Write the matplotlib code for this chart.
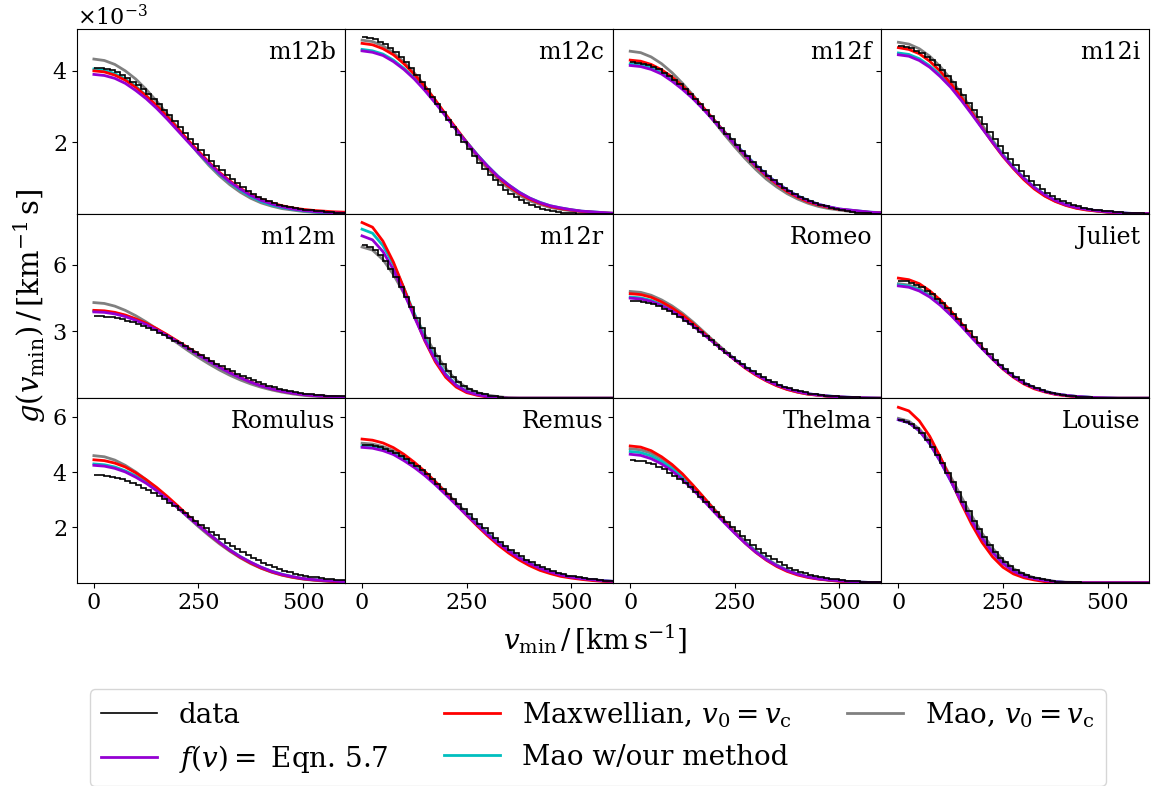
import numpy as np
import matplotlib
matplotlib.use("Agg")
import matplotlib.pyplot as plt
from matplotlib.lines import Line2D

plt.rcParams["font.family"] = "DejaVu Serif"
plt.rcParams["mathtext.fontset"] = "dejavuserif"

# model g(vmin) tabulated every 25 km/s, units of 1e-3 s/km
VMIN = np.arange(0, 601, 25)
# simulated g(vmin) is a histogram with 12.5 km/s bins
EDGES = np.arange(0, 601, 12.5)
SCALE = 1e-3

# ---- row 1 -------------------------------------------------------------
m12b_data = [4.09, 4.08, 4.05, 4.01, 3.96, 3.89, 3.80, 3.70, 3.59, 3.48, 3.35, 3.21,
             3.06, 2.91, 2.75, 2.59, 2.43, 2.26, 2.10, 1.94, 1.78, 1.63, 1.48, 1.34,
             1.21, 1.08, 0.96, 0.85, 0.74, 0.64, 0.55, 0.47, 0.40, 0.35, 0.30, 0.25,
             0.21, 0.18, 0.15, 0.12, 0.10, 0.09, 0.07, 0.06, 0.05, 0.04, 0.03, 0.02]
m12b_fv = [3.90, 3.87, 3.79, 3.65, 3.45, 3.22, 2.95, 2.65, 2.33, 2.01, 1.70, 1.41, 1.13, 0.89, 0.69, 0.51, 0.37, 0.27, 0.19, 0.13, 0.09, 0.06, 0.04, 0.02, 0.01]
m12b_maxw = [4.00, 3.97, 3.88, 3.74, 3.54, 3.30, 3.03, 2.72, 2.39, 2.06, 1.75, 1.44, 1.16, 0.92, 0.71, 0.53, 0.40, 0.30, 0.22, 0.16, 0.12, 0.09, 0.07, 0.05, 0.04]
m12b_mao = [4.05, 4.02, 3.92, 3.77, 3.57, 3.31, 3.02, 2.70, 2.36, 2.03, 1.70, 1.39, 1.11, 0.87, 0.66, 0.48, 0.34, 0.24, 0.17, 0.12, 0.08, 0.05, 0.03, 0.02, 0.01]
m12b_mao_vc = [4.33, 4.29, 4.18, 4.00, 3.77, 3.48, 3.15, 2.79, 2.41, 2.04, 1.68, 1.35, 1.06, 0.81, 0.60, 0.43, 0.30, 0.21, 0.14, 0.10, 0.06, 0.04, 0.02, 0.01, 0.00]

m12c_data = [4.95, 4.93, 4.89, 4.82, 4.74, 4.64, 4.52, 4.39, 4.24, 4.07, 3.89, 3.70,
             3.49, 3.28, 3.06, 2.85, 2.63, 2.42, 2.21, 2.00, 1.81, 1.62, 1.43, 1.26,
             1.09, 0.94, 0.80, 0.67, 0.56, 0.47, 0.38, 0.31, 0.24, 0.19, 0.14, 0.10,
             0.07, 0.04, 0.03, 0.02, 0.01, 0.00, 0.00, 0.00, 0.00, 0.00, 0.00, 0.00]
m12c_fv = [4.56, 4.52, 4.43, 4.26, 4.04, 3.77, 3.45, 3.10, 2.73, 2.35, 1.99, 1.65, 1.33, 1.04, 0.81, 0.60, 0.44, 0.31, 0.22, 0.16, 0.11, 0.07, 0.05, 0.03, 0.01]
m12c_maxw = [4.77, 4.73, 4.62, 4.45, 4.20, 3.90, 3.56, 3.18, 2.78, 2.39, 2.00, 1.64, 1.31, 1.02, 0.77, 0.57, 0.41, 0.29, 0.20, 0.14, 0.10, 0.06, 0.04, 0.02, 0.01]
m12c_mao = [4.60, 4.56, 4.47, 4.30, 4.07, 3.80, 3.48, 3.12, 2.75, 2.37, 2.01, 1.66, 1.34, 1.05, 0.81, 0.61, 0.44, 0.32, 0.22, 0.16, 0.11, 0.07, 0.05, 0.03, 0.01]
m12c_mao_vc = [4.86, 4.82, 4.70, 4.51, 4.25, 3.94, 3.58, 3.18, 2.76, 2.35, 1.96, 1.58, 1.25, 0.96, 0.71, 0.52, 0.36, 0.26, 0.17, 0.12, 0.08, 0.05, 0.03, 0.01, 0.00]

m12f_data = [4.24, 4.23, 4.20, 4.16, 4.11, 4.04, 3.95, 3.85, 3.74, 3.63, 3.50, 3.36,
             3.22, 3.07, 2.91, 2.74, 2.58, 2.41, 2.24, 2.08, 1.92, 1.76, 1.61, 1.46,
             1.32, 1.19, 1.06, 0.94, 0.83, 0.73, 0.64, 0.55, 0.48, 0.41, 0.35, 0.30,
             0.25, 0.21, 0.17, 0.14, 0.11, 0.08, 0.05, 0.03, 0.02, 0.01, 0.00, 0.00]
m12f_fv = [4.15, 4.12, 4.04, 3.91, 3.71, 3.48, 3.22, 2.92, 2.60, 2.27, 1.95, 1.64, 1.35, 1.09, 0.86, 0.66, 0.49, 0.36, 0.26, 0.19, 0.13, 0.10, 0.07, 0.04, 0.02]
m12f_maxw = [4.30, 4.27, 4.18, 4.03, 3.83, 3.58, 3.29, 2.97, 2.63, 2.29, 1.95, 1.63, 1.33, 1.06, 0.83, 0.62, 0.46, 0.33, 0.24, 0.17, 0.12, 0.09, 0.06, 0.03, 0.02]
m12f_mao = [4.20, 4.17, 4.09, 3.95, 3.75, 3.52, 3.26, 2.95, 2.63, 2.30, 1.97, 1.66, 1.37, 1.10, 0.87, 0.67, 0.50, 0.37, 0.26, 0.19, 0.13, 0.10, 0.07, 0.04, 0.03]
m12f_mao_vc = [4.55, 4.51, 4.39, 4.20, 3.95, 3.65, 3.32, 2.96, 2.59, 2.22, 1.87, 1.54, 1.24, 0.97, 0.75, 0.56, 0.41, 0.29, 0.20, 0.14, 0.10, 0.06, 0.04, 0.03, 0.01]

m12i_data = [4.69, 4.67, 4.63, 4.57, 4.49, 4.40, 4.29, 4.16, 4.01, 3.85, 3.68, 3.50,
             3.31, 3.11, 2.91, 2.70, 2.50, 2.29, 2.09, 1.90, 1.71, 1.53, 1.36, 1.20,
             1.05, 0.92, 0.80, 0.69, 0.59, 0.50, 0.42, 0.35, 0.29, 0.24, 0.20, 0.17,
             0.14, 0.11, 0.09, 0.08, 0.06, 0.05, 0.04, 0.03, 0.02, 0.01, 0.01, 0.00]
m12i_fv = [4.45, 4.41, 4.29, 4.10, 3.84, 3.54, 3.18, 2.79, 2.39, 2.00, 1.62, 1.28, 0.99, 0.73, 0.53, 0.37, 0.25, 0.17, 0.12, 0.08, 0.05, 0.03, 0.01, 0.00, 0.00]
m12i_maxw = [4.65, 4.60, 4.48, 4.27, 3.99, 3.65, 3.26, 2.84, 2.41, 1.99, 1.60, 1.26, 0.95, 0.69, 0.49, 0.34, 0.23, 0.15, 0.10, 0.07, 0.04, 0.02, 0.00, 0.00, 0.00]
m12i_mao = [4.50, 4.46, 4.34, 4.14, 3.89, 3.58, 3.21, 2.82, 2.41, 2.02, 1.64, 1.30, 1.00, 0.74, 0.54, 0.37, 0.26, 0.17, 0.12, 0.08, 0.05, 0.03, 0.01, 0.00, 0.00]
m12i_mao_vc = [4.80, 4.75, 4.62, 4.41, 4.12, 3.77, 3.36, 2.93, 2.49, 2.06, 1.66, 1.30, 0.98, 0.72, 0.50, 0.35, 0.24, 0.16, 0.11, 0.07, 0.04, 0.02, 0.00, 0.00, 0.00]

# ---- row 2 -------------------------------------------------------------
m12m_data = [3.70, 3.69, 3.67, 3.64, 3.60, 3.55, 3.49, 3.42, 3.34, 3.25, 3.15, 3.05,
             2.95, 2.84, 2.72, 2.59, 2.47, 2.34, 2.21, 2.08, 1.95, 1.82, 1.69, 1.56,
             1.44, 1.32, 1.21, 1.10, 0.99, 0.90, 0.81, 0.72, 0.64, 0.57, 0.50, 0.43,
             0.38, 0.33, 0.28, 0.25, 0.21, 0.18, 0.15, 0.13, 0.11, 0.10, 0.09, 0.08]
m12m_fv = [3.88, 3.86, 3.79, 3.67, 3.50, 3.31, 3.07, 2.81, 2.53, 2.23, 1.94, 1.66, 1.39, 1.14, 0.92, 0.72, 0.55, 0.42, 0.31, 0.23, 0.16, 0.12, 0.09, 0.06, 0.04]
m12m_maxw = [3.95, 3.93, 3.86, 3.74, 3.57, 3.37, 3.13, 2.86, 2.57, 2.27, 1.98, 1.69, 1.41, 1.16, 0.93, 0.73, 0.56, 0.42, 0.31, 0.23, 0.16, 0.12, 0.09, 0.06, 0.04]
m12m_mao = [3.92, 3.90, 3.83, 3.71, 3.54, 3.34, 3.10, 2.84, 2.55, 2.25, 1.96, 1.68, 1.40, 1.15, 0.93, 0.73, 0.56, 0.42, 0.31, 0.23, 0.16, 0.12, 0.09, 0.06, 0.04]
m12m_mao_vc = [4.30, 4.26, 4.14, 3.95, 3.71, 3.43, 3.12, 2.80, 2.47, 2.14, 1.83, 1.54, 1.27, 1.03, 0.82, 0.64, 0.49, 0.37, 0.27, 0.19, 0.13, 0.09, 0.06, 0.04, 0.02]

m12r_data = [6.87, 6.80, 6.65, 6.43, 6.15, 5.81, 5.43, 5.00, 4.55, 4.08, 3.61, 3.14,
             2.69, 2.26, 1.88, 1.53, 1.22, 0.95, 0.73, 0.56, 0.42, 0.31, 0.23, 0.17,
             0.12, 0.09, 0.06, 0.03, 0.02, 0.00, 0.00, 0.00, 0.00, 0.00, 0.00, 0.00,
             0.00, 0.00, 0.00, 0.00, 0.00, 0.00, 0.00, 0.00, 0.00, 0.00, 0.00, 0.00]
m12r_fv = [7.30, 7.12, 6.59, 5.78, 4.75, 3.65, 2.61, 1.72, 1.04, 0.58, 0.30, 0.16, 0.07, 0.02, 0, 0, 0, 0, 0, 0, 0, 0, 0, 0, 0]
m12r_maxw = [7.90, 7.69, 7.06, 6.12, 4.95, 3.71, 2.58, 1.64, 0.94, 0.50, 0.25, 0.13, 0.05, 0.01, 0, 0, 0, 0, 0, 0, 0, 0, 0, 0, 0]
m12r_mao = [7.60, 7.42, 6.86, 6.02, 4.95, 3.80, 2.72, 1.79, 1.09, 0.60, 0.31, 0.17, 0.08, 0.02, 0, 0, 0, 0, 0, 0, 0, 0, 0, 0, 0]
m12r_mao_vc = [6.80, 6.66, 6.23, 5.56, 4.72, 3.78, 2.86, 2.02, 1.33, 0.81, 0.46, 0.25, 0.14, 0.07, 0.02, 0, 0, 0, 0, 0, 0, 0, 0, 0, 0]

romeo_data = [4.39, 4.37, 4.34, 4.29, 4.22, 4.13, 4.02, 3.91, 3.78, 3.64, 3.49, 3.32,
              3.15, 2.97, 2.79, 2.60, 2.41, 2.22, 2.04, 1.86, 1.69, 1.52, 1.36, 1.21,
              1.07, 0.94, 0.82, 0.71, 0.61, 0.52, 0.44, 0.37, 0.31, 0.26, 0.21, 0.18,
              0.15, 0.12, 0.10, 0.08, 0.07, 0.06, 0.05, 0.04, 0.03, 0.02, 0.01, 0.00]
romeo_fv = [4.50, 4.46, 4.35, 4.16, 3.92, 3.61, 3.26, 2.88, 2.49, 2.10, 1.73, 1.38, 1.08, 0.81, 0.60, 0.43, 0.30, 0.20, 0.14, 0.09, 0.06, 0.04, 0.02, 0.01, 0.00]
romeo_maxw = [4.70, 4.66, 4.54, 4.33, 4.06, 3.74, 3.36, 2.94, 2.52, 2.11, 1.72, 1.35, 1.04, 0.78, 0.56, 0.39, 0.27, 0.18, 0.13, 0.08, 0.05, 0.03, 0.01, 0.00, 0.00]
romeo_mao = [4.55, 4.51, 4.40, 4.21, 3.96, 3.65, 3.30, 2.91, 2.52, 2.12, 1.75, 1.40, 1.09, 0.82, 0.61, 0.43, 0.30, 0.20, 0.14, 0.10, 0.06, 0.04, 0.02, 0.01, 0.00]
romeo_mao_vc = [4.80, 4.76, 4.63, 4.42, 4.15, 3.82, 3.43, 3.00, 2.57, 2.16, 1.75, 1.38, 1.07, 0.79, 0.57, 0.40, 0.27, 0.18, 0.13, 0.09, 0.05, 0.03, 0.01, 0.00, 0.00]

juliet_data = [5.29, 5.26, 5.20, 5.11, 4.99, 4.84, 4.67, 4.48, 4.27, 4.04, 3.79, 3.54,
               3.28, 3.01, 2.74, 2.47, 2.22, 1.97, 1.73, 1.51, 1.31, 1.12, 0.95, 0.80,
               0.66, 0.54, 0.44, 0.36, 0.29, 0.23, 0.18, 0.15, 0.12, 0.09, 0.07, 0.06,
               0.04, 0.03, 0.02, 0.01, 0.01, 0.00, 0.00, 0.00, 0.00, 0.00, 0.00, 0.00]
juliet_fv = [5.05, 4.99, 4.82, 4.55, 4.18, 3.74, 3.25, 2.73, 2.23, 1.76, 1.33, 0.97, 0.68, 0.46, 0.30, 0.19, 0.13, 0.08, 0.05, 0.02, 0.01, 0, 0, 0, 0]
juliet_maxw = [5.40, 5.33, 5.15, 4.83, 4.42, 3.93, 3.38, 2.81, 2.27, 1.76, 1.31, 0.94, 0.64, 0.42, 0.28, 0.17, 0.11, 0.06, 0.03, 0.01, 0, 0, 0, 0, 0]
juliet_mao = [5.10, 5.04, 4.87, 4.59, 4.22, 3.77, 3.28, 2.76, 2.25, 1.77, 1.35, 0.98, 0.69, 0.46, 0.31, 0.19, 0.13, 0.08, 0.05, 0.02, 0.01, 0, 0, 0, 0]
juliet_mao_vc = [5.15, 5.09, 4.92, 4.64, 4.26, 3.81, 3.31, 2.79, 2.28, 1.79, 1.36, 0.99, 0.70, 0.47, 0.31, 0.20, 0.13, 0.08, 0.05, 0.02, 0.01, 0, 0, 0, 0]

# ---- row 3 -------------------------------------------------------------
romulus_data = [3.90, 3.89, 3.87, 3.84, 3.80, 3.75, 3.68, 3.61, 3.53, 3.44, 3.35, 3.24,
                3.13, 3.02, 2.90, 2.77, 2.64, 2.51, 2.37, 2.24, 2.10, 1.97, 1.84, 1.71,
                1.58, 1.45, 1.33, 1.22, 1.11, 0.99, 0.90, 0.81, 0.72, 0.64, 0.57, 0.50,
                0.43, 0.38, 0.33, 0.29, 0.25, 0.22, 0.19, 0.16, 0.13, 0.12, 0.10, 0.09]
romulus_fv = [4.25, 4.22, 4.14, 4.01, 3.82, 3.60, 3.33, 3.03, 2.72, 2.39, 2.07, 1.76, 1.46, 1.18, 0.94, 0.74, 0.56, 0.41, 0.30, 0.22, 0.15, 0.11, 0.08, 0.06, 0.03]
romulus_maxw = [4.45, 4.42, 4.33, 4.19, 3.98, 3.73, 3.45, 3.13, 2.79, 2.43, 2.09, 1.76, 1.45, 1.17, 0.92, 0.71, 0.53, 0.39, 0.28, 0.20, 0.14, 0.10, 0.07, 0.04, 0.03]
romulus_mao = [4.30, 4.27, 4.19, 4.05, 3.87, 3.64, 3.37, 3.07, 2.75, 2.42, 2.09, 1.78, 1.47, 1.20, 0.95, 0.74, 0.56, 0.42, 0.31, 0.22, 0.15, 0.12, 0.08, 0.06, 0.03]
romulus_mao_vc = [4.60, 4.56, 4.44, 4.25, 4.01, 3.73, 3.41, 3.07, 2.72, 2.37, 2.03, 1.71, 1.41, 1.14, 0.90, 0.69, 0.52, 0.38, 0.27, 0.19, 0.13, 0.09, 0.06, 0.04, 0.02]

remus_data = [4.99, 4.98, 4.95, 4.91, 4.85, 4.78, 4.69, 4.58, 4.47, 4.35, 4.22, 4.07,
              3.92, 3.75, 3.58, 3.41, 3.23, 3.04, 2.86, 2.67, 2.49, 2.31, 2.14, 1.97,
              1.80, 1.63, 1.48, 1.33, 1.20, 1.07, 0.95, 0.84, 0.74, 0.65, 0.56, 0.49,
              0.42, 0.36, 0.31, 0.26, 0.23, 0.20, 0.17, 0.14, 0.12, 0.10, 0.08, 0.07]
remus_fv = [4.90, 4.87, 4.78, 4.64, 4.42, 4.17, 3.88, 3.55, 3.19, 2.82, 2.45, 2.10, 1.75, 1.44, 1.16, 0.91, 0.70, 0.52, 0.39, 0.28, 0.20, 0.15, 0.11, 0.07, 0.05]
remus_maxw = [5.20, 5.16, 5.06, 4.89, 4.65, 4.36, 4.03, 3.66, 3.26, 2.84, 2.44, 2.06, 1.70, 1.37, 1.08, 0.83, 0.62, 0.45, 0.33, 0.23, 0.17, 0.12, 0.08, 0.05, 0.03]
remus_mao = [4.95, 4.92, 4.83, 4.68, 4.47, 4.22, 3.92, 3.58, 3.22, 2.85, 2.48, 2.12, 1.77, 1.46, 1.17, 0.92, 0.71, 0.53, 0.39, 0.29, 0.20, 0.15, 0.11, 0.07, 0.05]
remus_mao_vc = [5.05, 5.02, 4.93, 4.78, 4.56, 4.30, 4.00, 3.66, 3.29, 2.90, 2.53, 2.16, 1.81, 1.48, 1.19, 0.94, 0.72, 0.54, 0.40, 0.29, 0.21, 0.15, 0.11, 0.08, 0.05]

thelma_data = [4.44, 4.42, 4.39, 4.34, 4.28, 4.20, 4.11, 3.99, 3.88, 3.75, 3.60, 3.45,
               3.28, 3.11, 2.93, 2.75, 2.57, 2.39, 2.21, 2.03, 1.86, 1.69, 1.53, 1.37,
               1.22, 1.09, 0.96, 0.85, 0.74, 0.64, 0.55, 0.47, 0.40, 0.34, 0.29, 0.24,
               0.20, 0.17, 0.14, 0.12, 0.10, 0.08, 0.06, 0.05, 0.04, 0.03, 0.03, 0.02]
thelma_fv = [4.65, 4.61, 4.49, 4.30, 4.05, 3.73, 3.37, 2.98, 2.57, 2.17, 1.79, 1.43, 1.11, 0.84, 0.62, 0.44, 0.31, 0.21, 0.14, 0.10, 0.07, 0.04, 0.02, 0.01, 0.00]
thelma_maxw = [4.95, 4.91, 4.78, 4.56, 4.28, 3.94, 3.53, 3.10, 2.65, 2.22, 1.81, 1.43, 1.10, 0.82, 0.59, 0.41, 0.28, 0.19, 0.13, 0.09, 0.05, 0.03, 0.01, 0.00, 0.00]
thelma_mao = [4.75, 4.71, 4.59, 4.39, 4.13, 3.81, 3.44, 3.04, 2.63, 2.21, 1.82, 1.46, 1.14, 0.86, 0.63, 0.45, 0.31, 0.21, 0.15, 0.10, 0.07, 0.04, 0.02, 0.01, 0.00]
thelma_mao_vc = [4.85, 4.81, 4.69, 4.49, 4.22, 3.89, 3.52, 3.10, 2.68, 2.26, 1.86, 1.49, 1.16, 0.88, 0.65, 0.46, 0.32, 0.22, 0.15, 0.10, 0.07, 0.04, 0.02, 0.01, 0.00]

louise_data = [5.88, 5.83, 5.73, 5.59, 5.41, 5.18, 4.93, 4.64, 4.32, 3.98, 3.63, 3.27,
               2.92, 2.58, 2.25, 1.93, 1.64, 1.37, 1.13, 0.91, 0.74, 0.59, 0.46, 0.36,
               0.28, 0.21, 0.16, 0.13, 0.10, 0.07, 0.04, 0.03, 0.02, 0.01, 0.01, 0.00,
               0.00, 0.00, 0.00, 0.00, 0.00, 0.00, 0.00, 0.00, 0.00, 0.00, 0.00, 0.00]
louise_fv = [5.90, 5.79, 5.50, 5.03, 4.40, 3.69, 2.95, 2.25, 1.62, 1.10, 0.70, 0.42, 0.24, 0.15, 0.08, 0.04, 0.01, 0, 0, 0, 0, 0, 0, 0, 0]
louise_maxw = [6.35, 6.22, 5.86, 5.30, 4.56, 3.73, 2.89, 2.12, 1.46, 0.94, 0.56, 0.32, 0.18, 0.10, 0.04, 0.01, 0, 0, 0, 0, 0, 0, 0, 0, 0]
louise_mao = [5.90, 5.79, 5.50, 5.03, 4.40, 3.69, 2.95, 2.25, 1.62, 1.10, 0.70, 0.42, 0.24, 0.15, 0.08, 0.04, 0.01, 0, 0, 0, 0, 0, 0, 0, 0]
louise_mao_vc = [5.95, 5.85, 5.57, 5.12, 4.53, 3.84, 3.12, 2.43, 1.79, 1.25, 0.82, 0.51, 0.31, 0.18, 0.11, 0.05, 0.02, 0.01, 0, 0, 0, 0, 0, 0, 0]

PANELS = [
    ("m12b", m12b_data, m12b_fv, m12b_maxw, m12b_mao, m12b_mao_vc),
    ("m12c", m12c_data, m12c_fv, m12c_maxw, m12c_mao, m12c_mao_vc),
    ("m12f", m12f_data, m12f_fv, m12f_maxw, m12f_mao, m12f_mao_vc),
    ("m12i", m12i_data, m12i_fv, m12i_maxw, m12i_mao, m12i_mao_vc),
    ("m12m", m12m_data, m12m_fv, m12m_maxw, m12m_mao, m12m_mao_vc),
    ("m12r", m12r_data, m12r_fv, m12r_maxw, m12r_mao, m12r_mao_vc),
    ("Romeo", romeo_data, romeo_fv, romeo_maxw, romeo_mao, romeo_mao_vc),
    ("Juliet", juliet_data, juliet_fv, juliet_maxw, juliet_mao, juliet_mao_vc),
    ("Romulus", romulus_data, romulus_fv, romulus_maxw, romulus_mao, romulus_mao_vc),
    ("Remus", remus_data, remus_fv, remus_maxw, remus_mao, remus_mao_vc),
    ("Thelma", thelma_data, thelma_fv, thelma_maxw, thelma_mao, thelma_mao_vc),
    ("Louise", louise_data, louise_fv, louise_maxw, louise_mao, louise_mao_vc),
]

ROW_YMAX = [5.17, 8.30, 6.68]
ROW_YTICKS = [[2, 4], [3, 6], [2, 4, 6]]

C_FV, C_MAXW, C_MAO, C_MAO_VC = "darkviolet", "red", "c", "grey"

fig, axes = plt.subplots(3, 4, figsize=(11.54, 7.86), sharex=True, sharey="row")
fig.subplots_adjust(left=0.0665, right=0.996, bottom=0.2586, top=0.963,
                    hspace=0, wspace=0)

for i, (name, data, fv, maxw, mao, mao_vc) in enumerate(PANELS):
    row, col = divmod(i, 4)
    ax = axes[row, col]
    s = SCALE
    ax.plot(VMIN, np.array(mao_vc) * s, color=C_MAO_VC, lw=2)
    ax.plot(VMIN, np.array(mao) * s, color=C_MAO, lw=2)
    ax.plot(VMIN, np.array(maxw) * s, color=C_MAXW, lw=2)
    ax.plot(VMIN, np.array(fv) * s, color=C_FV, lw=2)
    ax.stairs(np.array(data) * s, EDGES, baseline=None, color="k", lw=1.2,
              zorder=5)
    ax.text(0.965, 0.935, name, transform=ax.transAxes, ha="right", va="top",
            fontsize=17)
    ax.tick_params(labelsize=16)
    if row < 2:
        ax.tick_params(axis="x", bottom=False)

for row in range(3):
    ax = axes[row, 0]
    ax.set_ylim(0, ROW_YMAX[row] * SCALE)
    ax.set_yticks(np.array(ROW_YTICKS[row]) * SCALE)
    ax.ticklabel_format(axis="y", style="sci", scilimits=(-3, -3),
                        useMathText=True)
    if row > 0:
        ax.yaxis.offsetText.set_visible(False)
axes[0, 0].yaxis.offsetText.set_fontsize(16)
axes[0, 0].set_xlim(-41, 600)
axes[0, 0].set_xticks([0, 250, 500])

fig.text(0.5156, 0.186, r"$v_\mathrm{min}\,/\,[\mathrm{km\,s}^{-1}]$",
         ha="center", va="center", fontsize=20)
fig.text(0.026, 0.611, r"$g(v_\mathrm{min})\,/\,[\mathrm{km}^{-1}\,\mathrm{s}]$",
         ha="center", va="center", rotation=90, fontsize=21)

handles = [
    Line2D([], [], color="k", lw=1.2),
    Line2D([], [], color=C_FV, lw=2),
    Line2D([], [], color=C_MAXW, lw=2),
    Line2D([], [], color=C_MAO, lw=2),
    Line2D([], [], color=C_MAO_VC, lw=2),
]
labels = [
    "data",
    r"$f(v) =$ Eqn. 5.7",
    r"Maxwellian, $v_0 = v_\mathrm{c}$",
    "Mao w/our method",
    r"Mao, $v_0 = v_\mathrm{c}$",
]
fig.legend(handles, labels, loc="upper center", bbox_to_anchor=(0.518, 0.141),
           ncol=3, fontsize=20)

fig.savefig("out.png", dpi=100)
